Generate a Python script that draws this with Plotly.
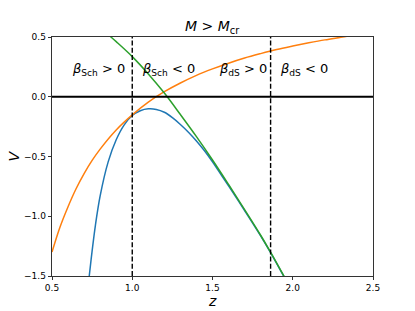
import plotly.graph_objects as go

# ---- data ----
blue_z = [0.72, 0.732, 0.75, 0.77, 0.8, 0.85, 0.9, 0.95, 1.0, 1.05, 1.1, 1.15, 1.2, 1.25, 1.3,
          1.35, 1.4, 1.45, 1.5, 1.55, 1.6, 1.7, 1.8, 1.86, 1.94, 1.97]
blue_v = [-1.64, -1.50, -1.29, -1.08, -0.83, -0.545, -0.36, -0.235, -0.157, -0.117, -0.101, -0.106,
          -0.13, -0.175, -0.232, -0.297, -0.37, -0.452, -0.545, -0.645, -0.745, -0.952, -1.164,
          -1.30, -1.492, -1.565]

orange_z = [0.5, 0.55, 0.6, 0.65, 0.7, 0.75, 0.8, 0.9, 1.0, 1.1, 1.2, 1.3, 1.4, 1.5, 1.6, 1.7,
            1.8, 1.9, 2.0, 2.1, 2.2, 2.3, 2.4, 2.5]
orange_v = [-1.30, -1.09, -0.92, -0.77, -0.643, -0.533, -0.438, -0.278, -0.152, -0.045, 0.042,
            0.115, 0.179, 0.233, 0.281, 0.324, 0.361, 0.395, 0.424, 0.451, 0.476, 0.498, 0.52, 0.54]

green_z = [0.8, 0.867, 0.9, 1.0, 1.1, 1.2, 1.3, 1.4, 1.5, 1.6, 1.7, 1.8, 1.86, 1.94, 1.97]
green_v = [0.574, 0.50, 0.461, 0.336, 0.191, 0.031, -0.149, -0.334, -0.529, -0.734, -0.944,
           -1.159, -1.297, -1.489, -1.56]

vlines_z = [1.0, 1.862]
hline_v = 0.0

region_labels = ["<i>β</i><sub>Sch</sub> > 0", "<i>β</i><sub>Sch</sub> < 0",
                 "<i>β</i><sub>dS</sub> > 0", "<i>β</i><sub>dS</sub> < 0"]
region_label_z = [0.61, 1.05, 1.526, 1.91]
region_label_v = 0.23

x_ticks = [0.5, 1.0, 1.5, 2.0, 2.5]
y_ticks = [-1.5, -1.0, -0.5, 0.0, 0.5]

FONT = "DejaVu Sans"

fig = go.Figure()
for zs, vs, col in [(blue_z, blue_v, "#1f77b4"), (orange_z, orange_v, "#ff7f0e"),
                    (green_z, green_v, "#2ca02c")]:
    fig.add_trace(go.Scatter(x=zs, y=vs, mode="lines", line=dict(color=col, width=1.5, shape="spline"),
                             showlegend=False, hoverinfo="skip"))

fig.add_shape(type="line", xref="paper", x0=0, x1=1, yref="y", y0=hline_v, y1=hline_v,
              line=dict(color="black", width=1.8))
for zv in vlines_z:
    fig.add_shape(type="line", xref="x", x0=zv, x1=zv, yref="paper", y0=0, y1=1,
                  line=dict(color="black", width=1.4, dash="5px,2.2px"))

for txt, zv in zip(region_labels, region_label_z):
    fig.add_annotation(x=zv, y=region_label_v, text=txt, showarrow=False, xanchor="left",
                       yanchor="middle", font=dict(family=FONT, size=13, color="black"))

fig.add_annotation(xref="paper", yref="paper", x=0.5, y=1, yshift=10, text="<i>M</i> > <i>M</i><sub>cr</sub>",
                   showarrow=False, xanchor="center", yanchor="middle",
                   font=dict(family=FONT, size=14, color="black"))
fig.add_annotation(xref="paper", yref="paper", x=0.5, y=0, yshift=-25, text="<i>z</i>",
                   showarrow=False, xanchor="center", yanchor="middle",
                   font=dict(family=FONT, size=14, color="black"))
fig.add_annotation(xref="paper", yref="paper", x=0, y=0.5, xshift=-39, text="<i>V</i>",
                   showarrow=False, xanchor="center", yanchor="middle", textangle=-90,
                   font=dict(family=FONT, size=14, color="black"))

axis_common = dict(showgrid=False, zeroline=False, showline=True, linecolor="black", linewidth=0.8,
                   mirror=True, ticks="outside", ticklen=3.5, tickwidth=0.8, tickcolor="black",
                   tickfont=dict(family=FONT, size=9, color="black"), tickformat=".1f")

fig.update_layout(
    width=415, height=311,
    margin=dict(l=52, r=42, t=37, b=35),
    paper_bgcolor="white", plot_bgcolor="white",
    xaxis=dict(range=[0.5, 2.5], tickvals=x_ticks, **axis_common),
    yaxis=dict(range=[-1.5, 0.5], tickvals=y_ticks, **axis_common),
)

fig.write_html("out.html", config={"displayModeBar": False, "staticPlot": True},
               post_script="document.body.style.margin='0';document.body.style.overflow='hidden';")
